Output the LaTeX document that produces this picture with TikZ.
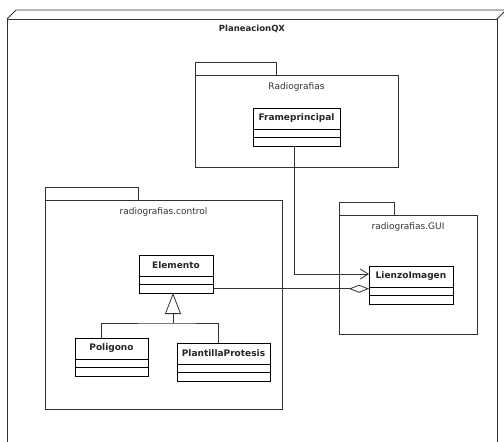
\documentclass[tikz,border=0pt]{standalone}
\usepackage{fontspec}
\setmainfont{DejaVu Sans}
\usetikzlibrary{calc, positioning, arrows.meta}
\colorlet{umlline}{black!80}
\newcommand\umlclass[5]{% id, left x, top y, width, class name
  \node[clsname, minimum width=#4, anchor=north west] (#1-n) at (#2,#3) {#5}; % name compartment
  \node[clscomp, minimum width=#4, anchor=north] (#1-a) at (#1-n.south) {};   % attributes
  \node[clscomp, minimum width=#4, anchor=north] (#1-o) at (#1-a.south) {};   % operations
}
\newcommand\umlpackage[8]{% id, left, tab top, tab right, body top, right, bottom, label
  \draw[pkgline] (#2,#3) rectangle (#4,#5);           % tab
  \draw[pkgline] (#2,#5) rectangle (#6,#7);           % body
  \node[pkglabel] (#1) at ({(#2+#6)/2},{#5+12}) {#8}; % package name
}

\begin{document}
\begin{tikzpicture}[x=1pt,y=-1pt,
    clsname/.style={draw=black, line width=0.8pt, fill=white, inner sep=0pt, outer sep=0pt, minimum height=21pt, font=\bfseries\fontsize{9}{10}\selectfont, text=black!85},
    clscomp/.style={draw=black, line width=0.8pt, fill=white, inner sep=0pt, outer sep=0pt, minimum height=8.5pt},
    pkgline/.style={draw=umlline, line width=0.9pt},
    pkglabel/.style={font=\fontsize{9}{10}\selectfont, text=black!80},
    conn/.style={draw=umlline, line width=0.8pt}]
  \useasboundingbox (0,0) rectangle (504,442);
  % outer node box
  \draw[pkgline] (7,19) -- (16,10) -- (510,10);
  \draw[pkgline] (7,450) -- (7,19) -- (497,19) -- (497,450);
  \draw[pkgline] (497,19) -- (506,10);
  \node[font=\bfseries\fontsize{8.5}{10}\selectfont, text=black!85] (title) at (252,29) {PlaneacionQX};
  % packages
  \umlpackage{radio}{195}{62}{276}{75}{398}{167}{Radiografias}
  \umlpackage{ctrl}{45}{187}{138}{200}{282}{409}{radiografias.control}
  \umlpackage{gui}{339}{202}{394}{215}{477}{334}{radiografias.GUI}
  % classes
  \umlclass{fp}{253}{108}{87}{Frameprincipal}
  \umlclass{el}{139}{255}{74}{Elemento}
  \umlclass{po}{75}{338}{73}{Poligono}
  \umlclass{pp}{177}{343}{93}{PlantillaProtesis}
  \umlclass{lz}{369}{266}{84}{LienzoImagen}
  % relations
  \draw[conn, -{Straight Barb[length=8pt, width=10pt]}] ([xshift=-2.5pt]fp-o.south) |- ([yshift=2.5pt]lz-n.west);
  \draw[conn, -{Diamond[open, length=20pt, width=8pt]}] (el-o.east) -- (el-o.east -| lz-a.west);
  \coordinate (gen) at (173,323);
  \draw[conn] ([xshift=-10.5pt]po-n.north) |- (gen) -| ([xshift=-5.5pt]pp-n.north);
  \draw[conn, -{Triangle[open, length=21pt, width=16pt]}] (gen) -- (gen |- el-o.south);
\end{tikzpicture}
\end{document}
